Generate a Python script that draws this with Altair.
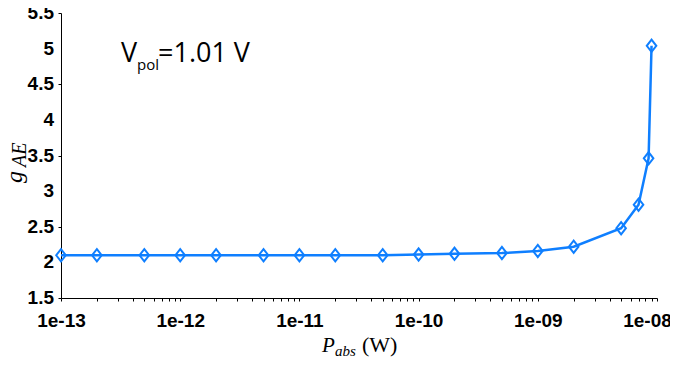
import json
import altair as alt
import pandas as pd

# ---- data ----
p_abs = [1e-13, 2e-13, 5e-13, 1e-12, 2e-12, 5e-12, 1e-11, 2e-11, 5e-11,
         1e-10, 2e-10, 5e-10, 1e-09, 2e-09, 5e-09, 7e-09, 8.5e-09, 9e-09]
g_ae = [2.10, 2.10, 2.10, 2.10, 2.10, 2.10, 2.10, 2.10, 2.10,
        2.11, 2.12, 2.13, 2.16, 2.22, 2.48, 2.81, 3.46, 5.04]

x_decades = [1e-13, 1e-12, 1e-11, 1e-10, 1e-09, 1e-08]
x_labels = ["1e-13", "1e-12", "1e-11", "1e-10", "1e-09", "1e-08"]
x_minor_mult = [2, 3, 4, 5, 6, 7, 8, 9]
y_major = [1.5, 2.0, 2.5, 3.0, 3.5, 4.0, 4.5, 5.0, 5.5]
y_labels = ["1.5", "2", "2.5", "3", "3.5", "4", "4.5", "5", "5.5"]
y_minor = [1.75, 2.25, 2.75, 3.25, 3.75, 4.25, 4.75, 5.25]

annot_main = ["V", "pol", "=1.01 V"]
xtitle_parts = ["P", "abs", "(W)"]
ytitle_parts = ["g", "AE"]

x_ticks = sorted(x_decades + [d * m for d in x_decades[:-1] for m in x_minor_mult])
y_ticks = sorted(y_major + y_minor)

df = pd.DataFrame({"p": p_abs, "g": g_ae})

BLUE = "#0f7fff"
LABEL_FONT = "Liberation Sans Narrow, Arial Narrow, Liberation Sans"

lg = "(log(datum.value)/LN10)"
x_label_expr = (f"abs({lg} - round({lg})) < 0.001 ? "
                f"{json.dumps(x_labels)}[round({lg}) + 13] : ''")

x_enc = alt.X("p:Q", scale=alt.Scale(type="log", domain=[1e-13, 1e-08]),
              axis=alt.Axis(values=x_ticks, labelExpr=x_label_expr, tickSize=3,
                            labelFont=LABEL_FONT, labelFontWeight="bold",
                            labelFontSize=19, labelColor="black", labelPadding=10,
                            labelFlush=False, labelOverlap=False,
                            labelOffset={"condition": {"test": "datum.value > 9.5e-9",
                                                       "value": -10},
                                         "value": 0},
                            domainColor="black", tickColor="black", grid=False,
                            title=None))
y_enc = alt.Y("g:Q", scale=alt.Scale(domain=[1.5, 5.5], nice=False, zero=False),
              axis=alt.Axis(values=y_ticks, labels=False, tickSize=3,
                            domainColor="black", tickColor="black", grid=False,
                            title=None))

base = alt.Chart(df)
line = base.mark_line(color=BLUE, strokeWidth=2.5).encode(x=x_enc, y=y_enc)
pts = base.mark_point(shape="M0,-1L0.78,0L0,1L-0.78,0Z", size=150, filled=False,
                      color=BLUE, strokeWidth=2, opacity=1).encode(x="p:Q", y="g:Q")

y_lab_layer = alt.Chart(pd.DataFrame({"v": y_major, "lab": y_labels})).mark_text(
    align="right", baseline="middle", font=LABEL_FONT, fontWeight="bold",
    fontSize=19, color="black"
).encode(y="v:Q", text="lab:N", x=alt.value(-7))


def txt(s, x, y, font, size, style="normal", angle=0):
    return alt.Chart(pd.DataFrame({"t": [s]})).mark_text(
        align="left", baseline="alphabetic", font=font, fontSize=size,
        fontStyle=style, angle=angle, color="black"
    ).encode(text="t:N", x=alt.value(x), y=alt.value(y))


annot = [
    txt(annot_main[0], 60, 49, "Open Sans", 27),
    txt(annot_main[1], 76, 57, "Open Sans", 15),
    txt(annot_main[2], 97, 49, "Open Sans", 27),
]
xt = [
    txt(xtitle_parts[0], 261, 339, "Liberation Serif", 21, "italic"),
    txt(xtitle_parts[1], 274, 343, "Liberation Serif", 15, "italic"),
    txt(xtitle_parts[2], 301, 339, "Liberation Serif", 22),
]
yt = [
    txt(ytitle_parts[0], -39, 170, "Liberation Serif", 24, "italic", 270),
    txt(ytitle_parts[1], -35, 154, "Liberation Serif", 20, "italic", 270),
]

chart = alt.layer(line, pts, y_lab_layer, *annot, *xt, *yt).properties(
    width=596, height=285,
    autosize=alt.AutoSizeParams(type="none"),
    padding={"left": 53, "top": 5, "right": 13, "bottom": 61},
).configure_view(stroke=None)

chart.save("out.html", embed_options={"renderer": "svg", "actions": False})
